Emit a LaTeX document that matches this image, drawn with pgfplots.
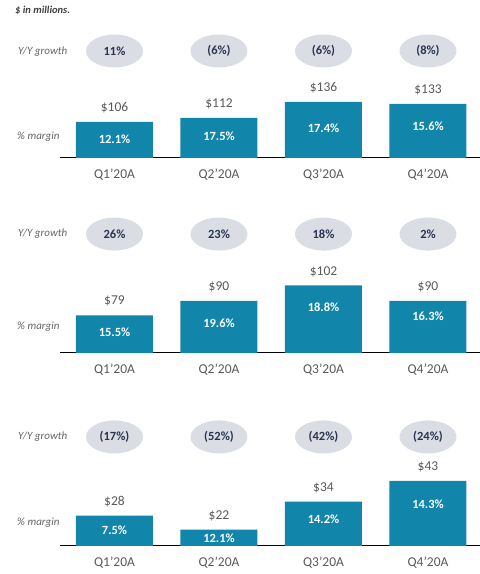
\documentclass[border=0pt]{standalone}
\usepackage{fontspec}
\setmainfont{Carlito}
\usepackage{pgfplots}
\pgfplotsset{compat=1.18}
\usetikzlibrary{shapes.geometric}
\definecolor{barblue}{RGB}{18,133,170}
\definecolor{pill}{RGB}{218,221,228}
\definecolor{pilltxt}{RGB}{40,52,80}
\definecolor{valtxt}{RGB}{89,89,89}
\definecolor{lbltxt}{RGB}{100,100,100}
\pgfplotsset{
  panel/.style={
    x=104.5pt, xmin=-0.5215, xmax=3.498,
    axis x line=bottom, axis y line=none,
    axis line style={-, black, line width=1pt},
    xtick={0,1,2,3}, xticklabels={Q1'20A,Q2'20A,Q3'20A,Q4'20A},
    xtick style={draw=none}, major tick length=0pt,
    xticklabel style={anchor=center, yshift=-17pt, font=\fontsize{13.5}{15}\selectfont, text=valtxt},
    ytick=\empty, anchor=south west,
    /pgf/number format/assume math mode=true,
  },
  barplot/.style={ybar, bar width=77pt, fill=barblue, draw=none,
    nodes near coords={\$\pgfmathprintnumber{\pgfplotspointmeta}},
    every node near coord/.append style={anchor=center, yshift=14pt, text=valtxt, font=\fontsize{13.5}{15}\selectfont}},
  growth/.style={draw=none, mark=none, point meta=explicit symbolic, nodes near coords,
    every node near coord/.append style={anchor=center, shape=ellipse, fill=pill, minimum width=57pt, minimum height=33pt, inner sep=0pt, text=pilltxt, font=\fontsize{12.5}{14}\selectfont\bfseries}},
  margin/.style={draw=none, mark=none, point meta=explicit symbolic, nodes near coords,
    every node near coord/.append style={anchor=center, text=white, font=\fontsize{12.5}{14}\selectfont\bfseries}},
}
\begin{document}
\begin{tikzpicture}
\useasboundingbox (0,0) rectangle (480pt,574pt);
% Panel 1
\begin{axis}[panel, at={(60pt,416pt)}, y=0.667pt, ymin=52, ymax=259]
\addplot[barplot] coordinates {(0,106) (1,112) (2,136) (3,133)};
\addplot[growth] coordinates {(0,212.4) [11\%] (1,212.4) [(6\%)] (2,212.4) [(6\%)] (3,212.4) [(8\%)]};
\addplot[margin] coordinates {(0,80.5) [12.1\%] (1,85) [17.5\%] (2,97) [17.4\%] (3,100) [15.6\%]};
\end{axis}
% Panel 2
\begin{axis}[panel, at={(60pt,221pt)}, y=1.3pt, ymin=50, ymax=163.8]
\addplot[barplot] coordinates {(0,79) (1,90) (2,102) (3,90)};
\addplot[growth] coordinates {(0,141.5) [26\%] (1,141.5) [23\%] (2,141.5) [18\%] (3,141.5) [2\%]};
\addplot[margin] coordinates {(0,66.2) [15.5\%] (1,73.1) [19.6\%] (2,85.4) [18.8\%] (3,78.5) [16.3\%]};
\end{axis}
% Panel 3
\begin{axis}[panel, at={(60pt,28pt)}, y=2.33pt, ymin=15, ymax=73.4]
\addplot[barplot] coordinates {(0,28) (1,22) (2,34) (3,43)};
\addplot[growth] coordinates {(0,61.8) [(17\%)] (1,61.8) [(52\%)] (2,61.8) [(42\%)] (3,61.8) [(24\%)]};
\addplot[margin] coordinates {(0,21.9) [7.5\%] (1,18.4) [12.1\%] (2,26.6) [14.2\%] (3,33.0) [14.3\%]};
\end{axis}
% side labels
\begin{scope}[every node/.style={anchor=west, inner sep=0pt, text=lbltxt, font=\fontsize{11}{13}\selectfont\itshape}]
\node at (18pt,522pt) {Y/Y growth};
\node at (18pt,340pt) {Y/Y growth};
\node at (18pt,137pt) {Y/Y growth};
\node at (17pt,437pt) {\% margin};
\node at (17pt,247pt) {\% margin};
\node at (17pt,51pt) {\% margin};
\end{scope}
\node[anchor=west, inner sep=0pt, text=black!75, font=\fontsize{10.5}{12}\selectfont\bfseries\itshape] at (15pt,564pt) {\$ in millions.};
\end{tikzpicture}
\end{document}
